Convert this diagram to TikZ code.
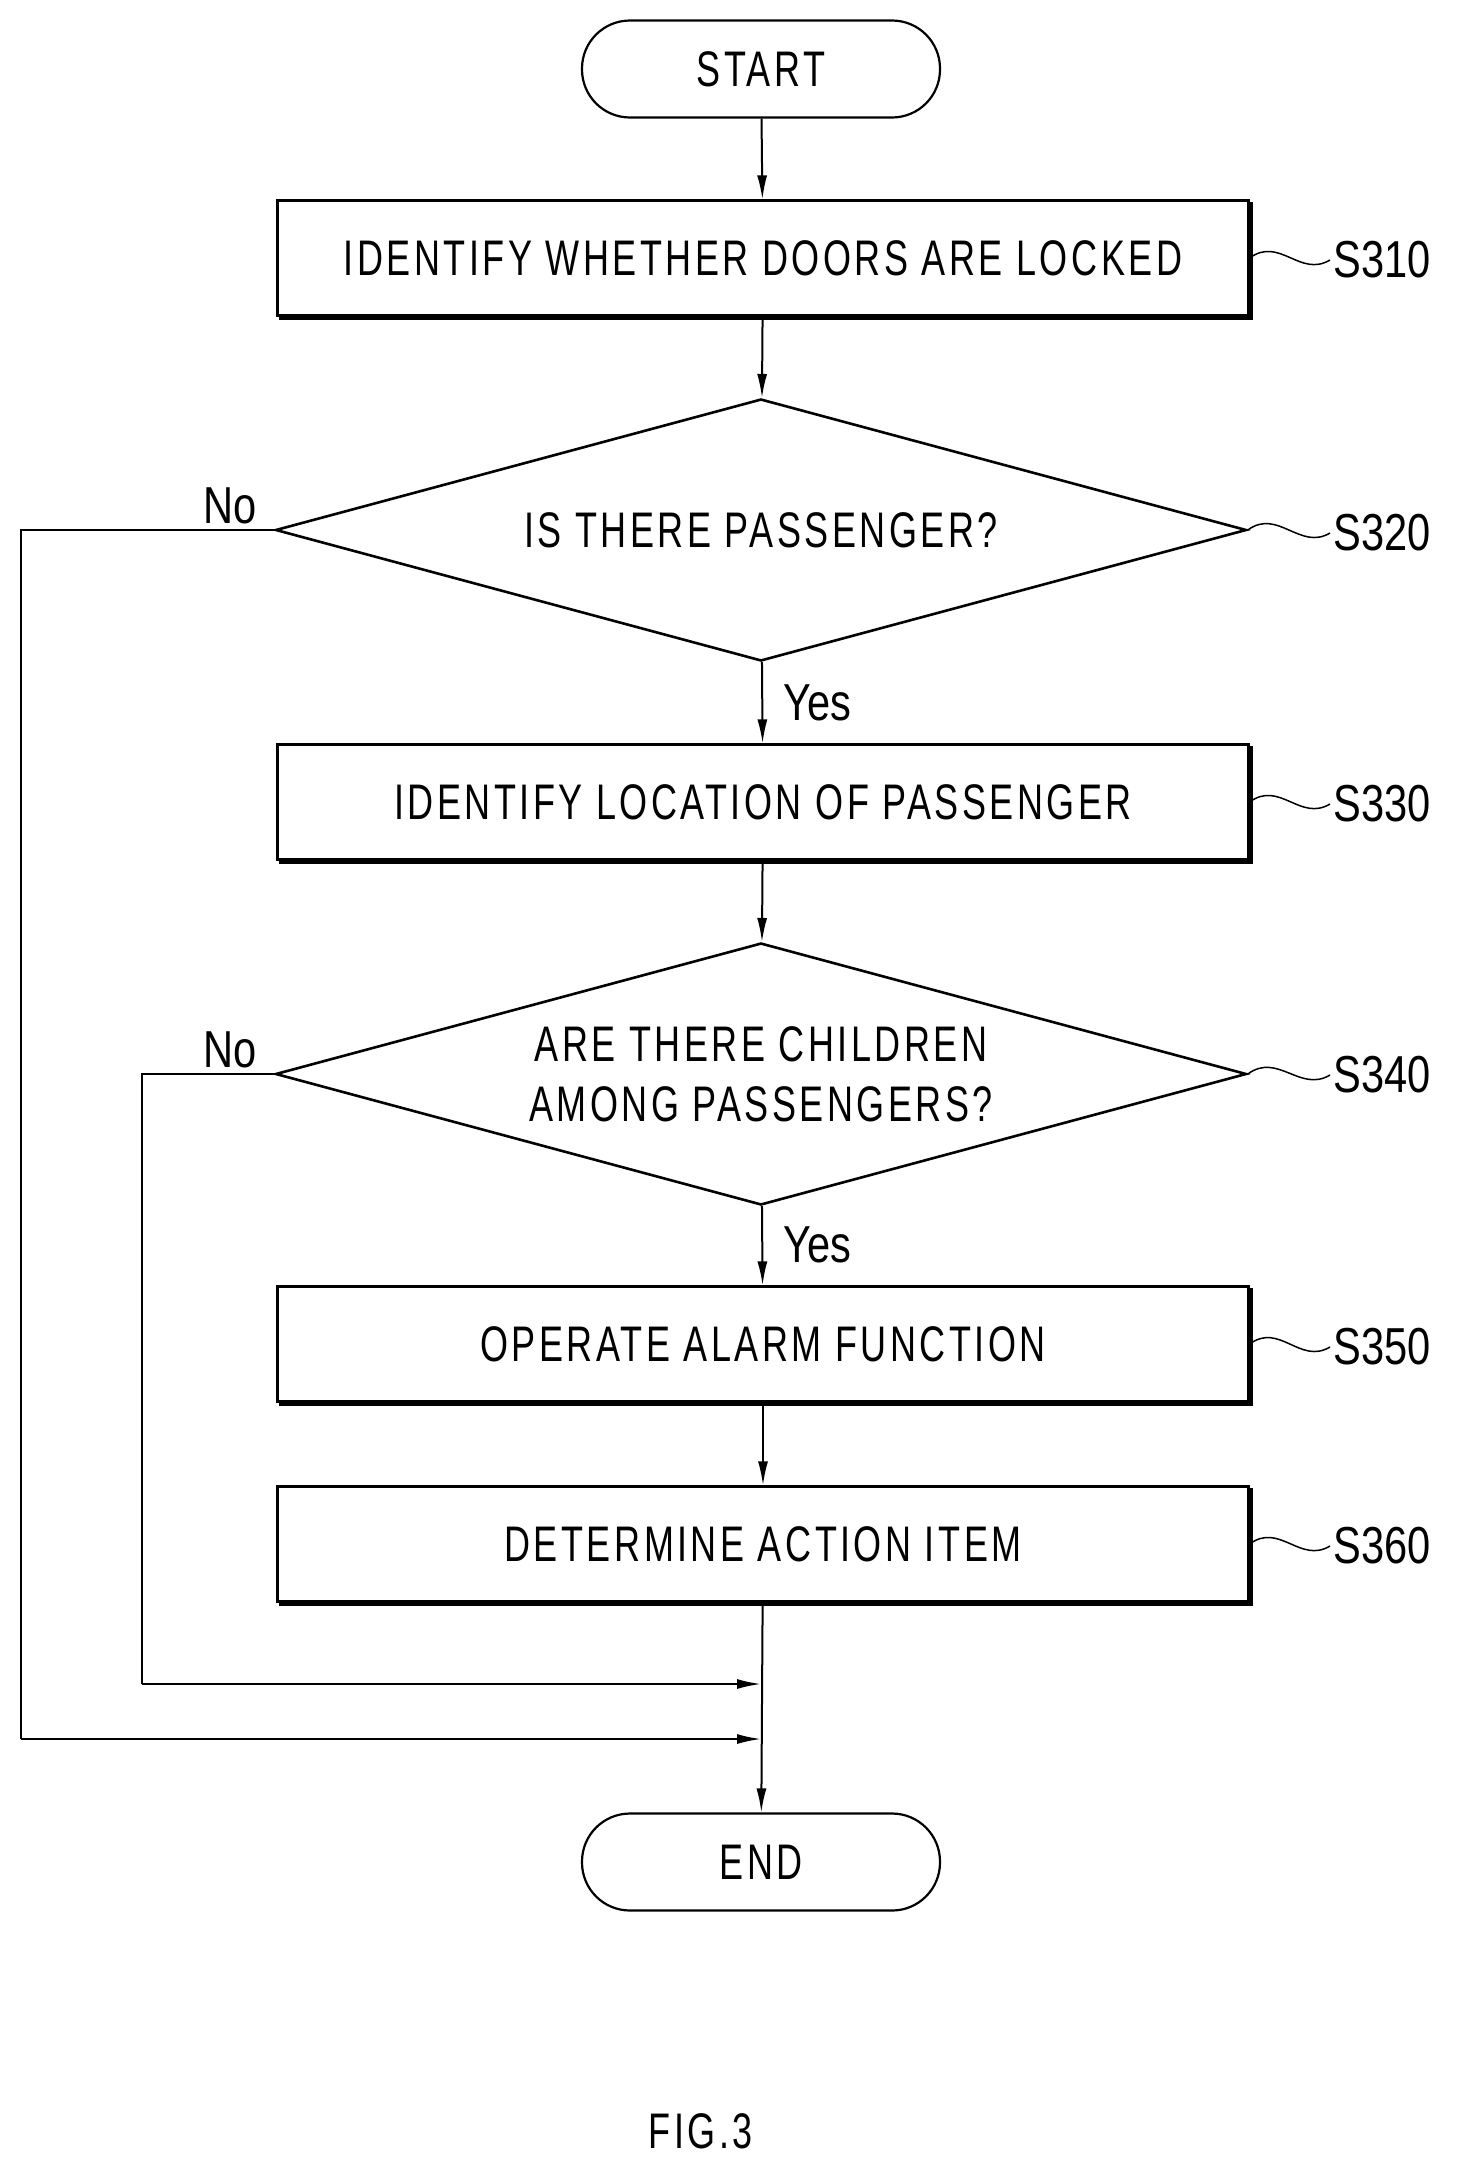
\documentclass[tikz,border=0pt]{standalone}
\usepackage{fontspec}
\setmainfont[FakeStretch=0.72,LetterSpace=7]{Liberation Sans}
\newfontfamily\labfont[FakeStretch=0.8]{Liberation Sans}
\usetikzlibrary{shapes.geometric,arrows.meta,shadows}
\begin{document}
\begin{tikzpicture}[x=1pt,y=-1pt,
 box/.style={draw,line width=2.2pt,minimum width=971pt,minimum height=115pt,font=\fontsize{50}{54}\selectfont,
   copy shadow={shadow xshift=3pt,shadow yshift=-3pt,draw,fill=black}},
 dia/.style={draw,line width=2.6pt,diamond,aspect=3.7,minimum width=971pt,minimum height=262pt,inner sep=0pt,font=\fontsize{50}{60}\selectfont,align=center},
 term/.style={draw,line width=2.2pt,rounded corners=48pt,minimum width=358pt,minimum height=97pt,font=\fontsize{50}{54}\selectfont},
 lab/.style={font=\labfont\fontsize{52}{54}\selectfont,anchor=west},
 ar/.style={line width=2pt,-{Latex[length=24pt,width=10pt]}},
 ln/.style={line width=2pt}]
\useasboundingbox (0,0) rectangle (1466,2177);
\node[term,fill=white] (start) at (761,69) {START};
\node[box,fill=white] (s310) at (763,258) {IDENTIFY WHETHER DOORS ARE LOCKED};
\node[dia,fill=white] (s320) at (761,530) {IS THERE PASSENGER?};
\node[box,fill=white] (s330) at (763,802) {IDENTIFY LOCATION OF PASSENGER};
\node[dia,fill=white] (s340) at (761,1074) {ARE THERE CHILDREN\\AMONG PASSENGERS?};
\node[box,fill=white] (s350) at (763,1344) {OPERATE ALARM FUNCTION};
\node[box,fill=white] (s360) at (763,1544) {DETERMINE ACTION ITEM};
\node[term,fill=white] (end) at (761,1862) {END};
\node[font=\fontsize{50}{54}\selectfont] (fig) at (701,2131) {FIG.3};
\coordinate (j1) at (761,1684);
\coordinate (j2) at (761,1739);
\coordinate (l1) at (21,530);
\coordinate (l2) at (142,1074);
\draw[ar] (start) -- (s310);
\draw[ar] (s310) -- (s320);
\draw[ar] (s320) -- (s330);
\draw[ar] (s330) -- (s340);
\draw[ar] (s340) -- (s350);
\draw[ar] (s350) -- (s360);
\draw[ar] (s360) -- (end);
\draw[ln] (s320.west) -- (l1) -- (21,1739);
\draw[ar] (21,1739) -- (j2);
\draw[ln] (s340.west) -- (l2) -- (142,1684);
\draw[ar] (142,1684) -- (j1);
\node[lab,anchor=south west] at (200,528) {No};
\node[lab,anchor=south west] at (200,1072) {No};
\node[lab] at (780,703) {Yes};
\node[lab] at (780,1245) {Yes};
\foreach \n/\y/\t in {s310/260/S310,s320/533/S320,s330/804/S330,s340/1075/S340,s350/1347/S350,s360/1546/S360}{
  \node[lab] (t\n) at (1330,\y) {\t};
  \draw[line width=1.5pt] (\n.east) .. controls +(30,-22) and +(-30,18) .. (t\n.west);
}
\end{tikzpicture}
\end{document}
